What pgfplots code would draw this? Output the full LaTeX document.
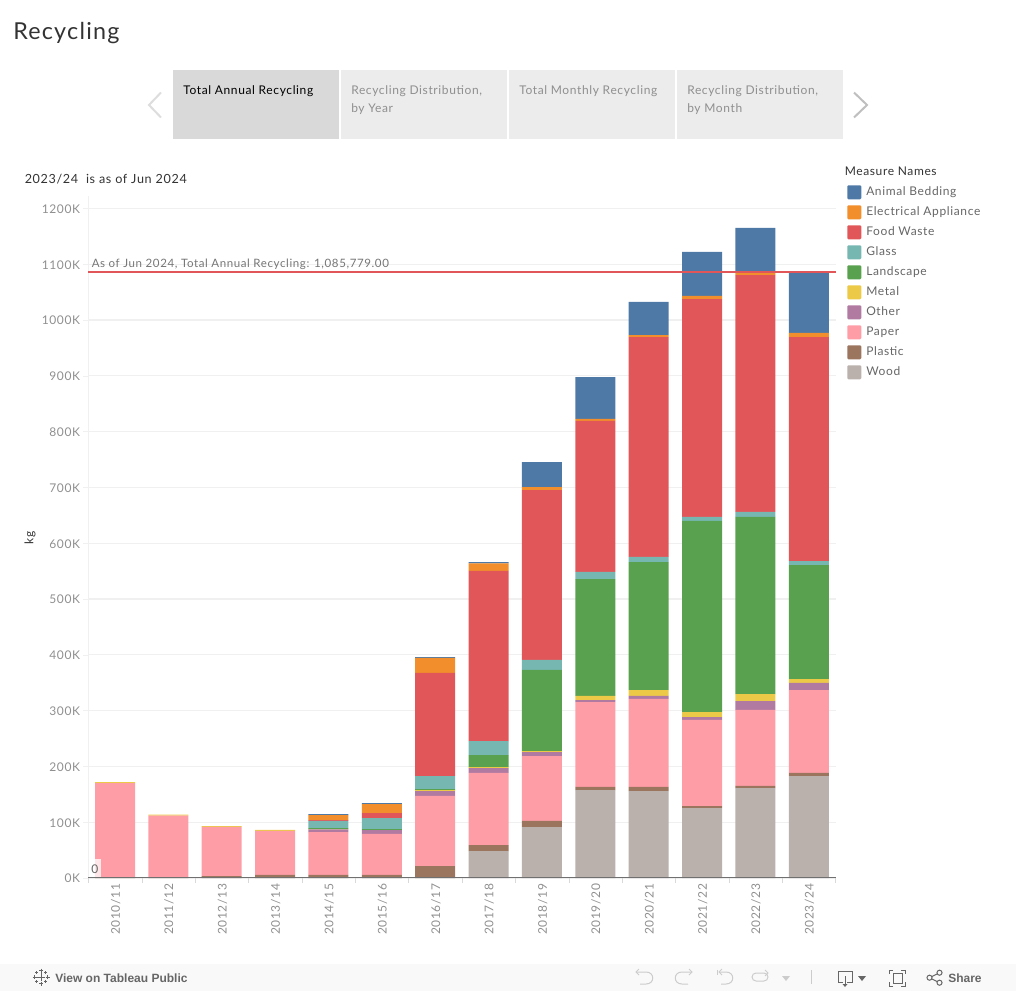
\documentclass[border=0pt]{standalone}
\usepackage{fontspec}
\setmainfont[LetterSpace=5.2]{Lato}
\newfontfamily\uifont{Liberation Sans}
\usepackage{pgfplots}
\usepackage{pgfplotstable}
\pgfplotsset{compat=1.18}

\definecolor{cBlue}{HTML}{4E79A7}
\definecolor{cOrange}{HTML}{F28E2B}
\definecolor{cRed}{HTML}{E15759}
\definecolor{cTeal}{HTML}{76B7B2}
\definecolor{cGreen}{HTML}{59A14F}
\definecolor{cYellow}{HTML}{EDC948}
\definecolor{cPurple}{HTML}{B07AA1}
\definecolor{cPink}{HTML}{FF9DA7}
\definecolor{cBrown}{HTML}{9C755F}
\definecolor{cGrey}{HTML}{BAB0AC}
\definecolor{gridc}{HTML}{F0F0F0}
\definecolor{tickc}{HTML}{8F8F8F}
\definecolor{darkc}{HTML}{333333}
\definecolor{iconoff}{HTML}{CCCCCC}
\definecolor{iconon}{HTML}{666666}
\definecolor{tabon}{HTML}{D9D9D9}
\definecolor{taboff}{HTML}{ECECEC}
\definecolor{chevl}{HTML}{DDDDDD}
\definecolor{chevr}{HTML}{BFBFBF}
\definecolor{basec}{HTML}{707070}
\definecolor{footc}{HTML}{F9F9F9}

% values in thousands of kg
\pgfplotstableread{
x Wood Plastic Paper Other Metal Landscape Glass Food Elec Animal
0 0 1 169 0 2 0 0 0 0 0
1 0 1 111 0 1.5 0 0 0 0 0
2 0 3.5 88 0 1.5 0 0 0 0 0
3 0 5.4 79 0 1.8 0 0 0 0 0
4 0 5.4 77 4.8 0.2 2.2 12.6 1.7 9 1.8
5 0 5.4 73.5 7.1 0 1.8 19.7 9 16.1 1.8
6 0 21.5 125.5 8.9 1.8 1.8 23.3 184.6 26.9 1.7
7 48.4 10.7 129.1 8.9 1.8 21.5 25.1 304.7 13.8 2
8 91.4 10.8 116.4 7.2 1.8 145.2 17.9 304.6 5.4 44.8
9 157.7 5.4 152.3 3.6 7.2 209.6 12.6 270.6 3.6 75.2
10 155.9 7.2 157.7 5.4 10.7 229.4 9 394.2 3.6 59.2
11 125.4 3.6 154.2 5.3 9 342.3 7.2 390.6 5.4 78.9
12 161.3 3.6 136.2 16.1 12.5 317.3 9 424.6 5.4 78.9
13 182.8 5.4 148.7 12.6 7.1 204.3 7.2 401.4 7.2 109.1
}\recycling

\begin{document}
\begin{tikzpicture}[x=0.75pt,y=-0.75pt,
  txt/.style={anchor=base west,inner sep=0pt,font=\fontsize{9}{11}\selectfont}]
\useasboundingbox (0,0) rectangle (1016,991);

% header and tabs
\node[txt,font=\fontsize{17.5}{20}\selectfont,text=darkc] at (13,39.5) {Recycling};
\fill[tabon] (173,70) rectangle (339,139);
\foreach \a in {341,509,677} \fill[taboff] (\a,70) rectangle (\a+166,139);
\node[txt,text=black] at (183,94.5) {Total Annual Recycling};
\node[txt,text=tickc] at (351,94.5) {Recycling Distribution,};
\node[txt,text=tickc] at (351,112.5) {by Year};
\node[txt,text=tickc] at (519,94.5) {Total Monthly Recycling};
\node[txt,text=tickc] at (687,94.5) {Recycling Distribution,};
\node[txt,text=tickc] at (687,112.5) {by Month};
\draw[chevl,line width=1.5pt] (161,92.5) -- (149,105) -- (161,117.5);
\draw[chevr,line width=1.5pt] (854,92.5) -- (867,105) -- (854,117.5);
\node[txt,font=\fontsize{9.45}{11}\selectfont,text=darkc] at (24.5,184) {2023/24\ \ is as of Jun 2024};

\begin{axis}[
    at={(66pt,-658.5pt)}, anchor=south west,
    scale only axis,
    width=561pt, height=511.5pt,
    xmin=-0.506, xmax=13.51,
    ymin=0, ymax=1222.2,
    ybar stacked,
    bar width=30pt,
    axis lines=left,
    axis line style={-},
    x axis line style={draw=none},
    y axis line style={draw=gridc},
    tick align=outside,
    major tick length=3.75pt,
    ymajorgrids,
    grid style={draw=gridc,line width=0.8pt},
    ytick={0,100,...,1200},
    yticklabels={0K,100K,200K,300K,400K,500K,600K,700K,800K,900K,1000K,1100K,1200K},
    xtick=data,
    xticklabels={2010/11,2011/12,2012/13,2013/14,2014/15,2015/16,2016/17,2017/18,2018/19,2019/20,2020/21,2021/22,2022/23,2023/24},
    xtick style={draw=none},
    ytick style={draw=gridc},
    extra x ticks={-0.5,0.5,...,13.5},
    extra x tick labels={},
    extra x tick style={grid=none,xtick style={draw=gridc!80!gray}},
    ticklabel style={font=\fontsize{9}{11}\selectfont,text=tickc},
    xticklabel style={rotate=90,anchor=east,inner sep=0pt,yshift=-0.5pt,xshift=-0.5pt},
    yticklabel style={inner sep=0pt,xshift=-2pt,yshift=-0.5pt},
    ylabel={kg},
    ylabel style={font=\fontsize{9}{11}\selectfont,text=darkc,at={(-43.5pt,255pt)},anchor=center,rotate=0},
    reverse legend,
    legend cell align=left,
    legend image code/.code={\fill[#1,rounded corners=0.8pt] (0pt,-5.25pt) rectangle (10.5pt,5.25pt);},
    legend style={at={(569.25pt,522pt)},anchor=north west,draw=none,fill=none,
      font=\fontsize{9}{11}\selectfont,text=iconon,inner sep=0pt,
      row sep=0pt,
      nodes={inner sep=0pt,minimum height=15pt,anchor=west},
      /tikz/every odd column/.append style={column sep=3.75pt}},
]
\addplot[fill=cGrey,draw=none] table[x=x,y=Wood] {\recycling};
\addlegendentry{Wood}
\addplot[fill=cBrown,draw=none] table[x=x,y=Plastic] {\recycling};
\addlegendentry{Plastic}
\addplot[fill=cPink,draw=none] table[x=x,y=Paper] {\recycling};
\addlegendentry{Paper}
\addplot[fill=cPurple,draw=none] table[x=x,y=Other] {\recycling};
\addlegendentry{Other}
\addplot[fill=cYellow,draw=none] table[x=x,y=Metal] {\recycling};
\addlegendentry{Metal}
\addplot[fill=cGreen,draw=none] table[x=x,y=Landscape] {\recycling};
\addlegendentry{Landscape}
\addplot[fill=cTeal,draw=none] table[x=x,y=Glass] {\recycling};
\addlegendentry{Glass}
\addplot[fill=cRed,draw=none] table[x=x,y=Food] {\recycling};
\addlegendentry{Food Waste}
\addplot[fill=cOrange,draw=none] table[x=x,y=Elec] {\recycling};
\addlegendentry{Electrical Appliance}
\addplot[fill=cBlue,draw=none] table[x=x,y=Animal] {\recycling};
\addlegendentry{Animal Bedding}
\end{axis}

% reference line drawn over the stacks, 1085.779K on the value scale
\begin{axis}[
    at={(66pt,-658.5pt)}, anchor=south west,
    scale only axis,
    width=561pt, height=511.5pt,
    xmin=-0.506, xmax=13.51,
    ymin=0, ymax=1222.2,
    hide axis,
]
\addplot[cRed,line width=1.5pt] coordinates {(-0.506,1085.779) (13.51,1085.779)};
\end{axis}

\draw[basec,line width=0.9pt] (88,877.7) -- (836,877.7);
\node[txt,font=\fontsize{8.65}{11}\selectfont,text=iconon!90] at (91.5,267.3) {As of Jun 2024, Total Annual Recycling: 1,085,779.00};
\fill[white,opacity=0.75] (89,859) rectangle (101,877);
\node[txt,text=iconon] at (91,873) {0};
\node[txt,text=darkc] at (844.5,176) {Measure Names};

% footer bar
\fill[footc] (0,964) rectangle (1016,991);
\node[txt,font=\uifont\bfseries\fontsize{9}{11}\selectfont,text=iconon] at (55,982) {View on Tableau Public};
\node[txt,font=\uifont\bfseries\fontsize{9}{11}\selectfont,text=iconon] at (948,982) {Share};
\begin{scope}[iconon,line width=0.6pt]
  \foreach \cx/\cy/\r in {41/977/4,41/970.5/2,41/983.5/2,34.5/977/2,47.5/977/2,36.5/972.5/1.5,45.5/972.5/1.5,36.5/981.5/1.5,45.5/981.5/1.5}
    \draw (\cx-\r,\cy) -- (\cx+\r,\cy) (\cx,\cy-\r) -- (\cx,\cy+\r);
\end{scope}
\begin{scope}[iconoff,line width=0.75pt]
  \draw (636,972) -- (646,972) .. controls (655,972) and (655,984) .. (646,984) -- (640,984);
  \draw (639,969) -- (636,972) -- (639,975);
  \draw (692,972) -- (682,972) .. controls (673,972) and (673,984) .. (682,984) -- (688,984);
  \draw (689,969) -- (692,972) -- (689,975);
  \draw (717,969.5) -- (717,975);
  \draw (719,972) -- (726,972) .. controls (735,972) and (735,984) .. (726,984) -- (721,984);
  \draw (722,969) -- (719,972) -- (722,975);
  \draw[rounded corners=3pt] (752,973) rectangle (768,981);
  \draw (765,970) -- (768,973) -- (765,976);
  \draw (811,970) -- (811,984);
  \fill (782,976) -- (790,976) -- (786,981) -- cycle;
\end{scope}
\begin{scope}[iconon,line width=0.75pt]
  \draw (843,982) -- (838,982) -- (838,971) -- (852,971) -- (852,982) -- (847,982);
  \draw (845,976) -- (845,986);
  \fill (842.5,984) -- (847.5,984) -- (845,987) -- cycle;
  \fill (858,976) -- (866,976) -- (862,981) -- cycle;
  \draw (889,974) -- (889,970) -- (893,970) (901,970) -- (905,970) -- (905,974)
        (905,982) -- (905,986) -- (901,986) (893,986) -- (889,986) -- (889,982);
  \draw (893,973) rectangle (902,983);
  \draw (929.5,977.7) circle[radius=1.9pt] (939.5,972.7) circle[radius=1.9pt] (939.5,982.7) circle[radius=1.9pt];
  \draw (931.5,976.7) -- (937.5,973.7) (931.5,978.7) -- (937.5,981.7);
\end{scope}
\end{tikzpicture}
\end{document}
